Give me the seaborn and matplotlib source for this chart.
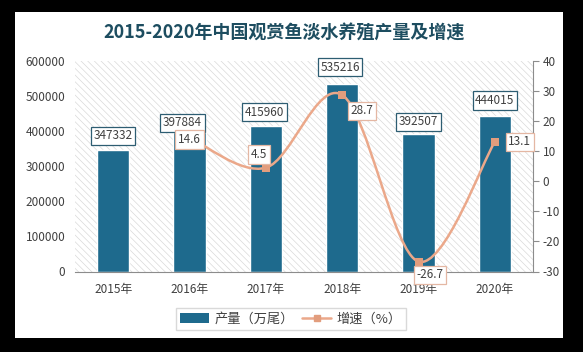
import numpy as np
import pandas as pd
import matplotlib
matplotlib.use("Agg")
import matplotlib.pyplot as plt
from matplotlib.path import Path
from matplotlib.patches import PathPatch, Rectangle, Patch
from matplotlib.lines import Line2D
import seaborn as sns

# data
years = ["2015年", "2016年", "2017年", "2018年", "2019年", "2020年"]
output = [347332, 397884, 415960, 535216, 392507, 444015]
growth_years = ["2016年", "2017年", "2018年", "2019年", "2020年"]
growth = [14.6, 4.5, 28.7, -26.7, 13.1]

# label offsets in points (style only)
bar_offsets = [(0, 10), (-5, 6.5), (-1, 9.5), (-1.5, 12), (0, 8.5), (0, 11)]
line_offsets = [(0, -1.5), (-5, 9.5), (14, -11.5), (8, -9.5), (18, 0)]

sns.set_theme(style="white")
plt.rcParams["font.family"] = ["Noto Sans CJK SC", "DejaVu Sans"]
plt.rcParams["hatch.linewidth"] = 0.5
plt.rcParams["axes.unicode_minus"] = False

BAR = "#1e6a8d"
LINE = "#eba88a"
MARK = "#e29d7d"
TXT = "#404040"

fig = plt.figure(figsize=(5.83, 3.52), dpi=100, facecolor="black")
fig.patches.append(Rectangle((15 / 583, 1 - 338 / 352), 548 / 583, 326 / 352,
                             transform=fig.transFigure, facecolor="white",
                             edgecolor="none", zorder=-5))
ax = fig.add_axes([75 / 583, 1 - 271.5 / 352, 458 / 583, 210.5 / 352])
ax.set_facecolor("white")
ax.add_patch(Rectangle((0, 0), 1, 1, transform=ax.transAxes, facecolor="white",
                       edgecolor="#d9d9d9", hatch="\\\\\\\\\\", lw=0, zorder=0))

df = pd.DataFrame({"year": years, "output": output})
sns.barplot(data=df, x="year", y="output", color=BAR, width=0.42, saturation=1,
            edgecolor="white", linewidth=1.0, ax=ax, zorder=2)
ax.set_xlim(-0.5, len(years) - 0.5)
ax.set_ylim(0, 600000)
ax.set_yticks(np.arange(0, 600001, 100000))
ax.set_xlabel("")
ax.set_ylabel("")
ax.tick_params(axis="y", length=0, pad=7, labelsize=8.5, labelcolor=TXT)
ax.tick_params(axis="x", length=0, pad=8, labelsize=8.5, labelcolor=TXT)
for s in ["top", "left", "right"]:
    ax.spines[s].set_visible(False)
ax.spines["bottom"].set_color("#8c8c8c")
ax.spines["bottom"].set_linewidth(0.8)

for i, v in enumerate(output):
    dx, dy = bar_offsets[i]
    ax.annotate(str(v), (i, v), xytext=(dx, dy), textcoords="offset points",
                ha="center", va="center", fontsize=8.5, color=TXT, zorder=5,
                bbox=dict(boxstyle="square,pad=0.22", fc="white", ec="#2d5d72", lw=0.9))

# growth line on right axis
ax2 = ax.twinx()
ax2.set_zorder(ax.get_zorder() + 1)
ax2.patch.set_visible(False)
pos = [years.index(y) for y in growth_years]
pts = np.column_stack([pos, growth]).astype(float)
ext = np.vstack([pts[0], pts, pts[-1]])
verts = [tuple(pts[0])]
codes = [Path.MOVETO]
for k in range(len(pts) - 1):
    p0, p1, p2, p3 = ext[k], ext[k + 1], ext[k + 2], ext[k + 3]
    verts += [tuple(p1 + (p2 - p0) / 6), tuple(p2 - (p3 - p1) / 6), tuple(p2)]
    codes += [Path.CURVE4] * 3
ax2.add_patch(PathPatch(Path(verts, codes), fc="none", ec=LINE, lw=1.8, zorder=3))
sns.scatterplot(x=pos, y=growth, marker="s", s=28, color=MARK, edgecolor=MARK,
                linewidth=0, ax=ax2, zorder=4)
ax2.set_ylim(-30, 40)
ax2.set_yticks(np.arange(-30, 41, 10))
ax2.tick_params(axis="y", length=4, width=0.8, color="#8c8c8c", pad=3,
                labelsize=8.5, labelcolor=TXT, right=True)
for s in ["top", "left", "bottom"]:
    ax2.spines[s].set_visible(False)
ax2.spines["right"].set_color("#8c8c8c")
ax2.spines["right"].set_linewidth(0.8)

for i, (x, v) in enumerate(zip(pos, growth)):
    dx, dy = line_offsets[i]
    ax2.annotate(f"{v}", (x, v), xytext=(dx, dy), textcoords="offset points",
                 ha="center", va="center", fontsize=8.5, color=TXT, zorder=6,
                 bbox=dict(boxstyle="square,pad=0.22", fc="white", ec="#e4b7a3", lw=0.9))

fig.text(284 / 583, 1 - 32 / 352, "2015-2020年中国观赏鱼淡水养殖产量及增速",
         ha="center", va="center", fontsize=13, fontweight="bold", color="#1d4d60")

handles = [Patch(facecolor=BAR, edgecolor="none"),
           Line2D([0], [0], color=LINE, lw=1.8, marker="s", markersize=5,
                  markerfacecolor=MARK, markeredgecolor=MARK)]
fig.legend(handles, ["产量（万尾）", "增速（%）"], loc="center",
           bbox_to_anchor=(291 / 583, 1 - 319 / 352), ncol=2, fontsize=9.5,
           frameon=True, fancybox=False, edgecolor="#d9d9d9", framealpha=1,
           handlelength=2.2, handletextpad=0.4, columnspacing=0.6,
           borderpad=0.35, labelcolor=TXT)

fig.savefig("out.png", dpi=100, facecolor=fig.get_facecolor())
